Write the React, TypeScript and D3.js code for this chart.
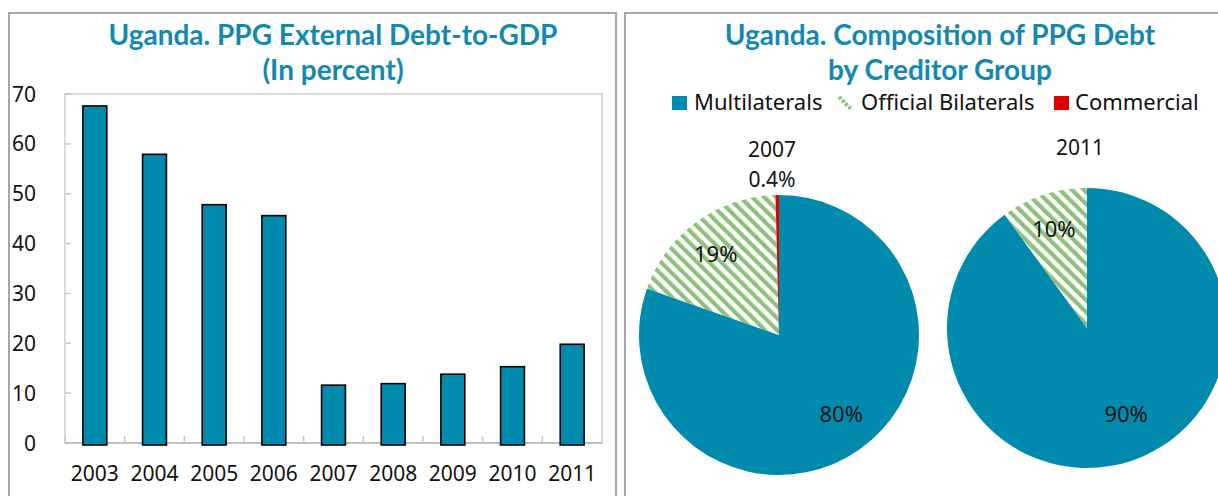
import React from "react";
import * as d3 from "d3";

const years = ["2003", "2004", "2005", "2006", "2007", "2008", "2009", "2010", "2011"];
const debtToGdp = [67.6, 57.9, 47.8, 45.6, 11.6, 11.9, 13.8, 15.3, 19.8];
const yTicks = [0, 10, 20, 30, 40, 50, 60, 70];

const creditorGroups = ["Multilaterals", "Official Bilaterals", "Commercial"];
const pie2007 = [80.4, 19.2, 0.4];
const pie2011 = [90, 10, 0];
const pie2007Labels = ["80%", "19%", "0.4%"];
const pie2011Labels = ["90%", "10%", ""];

const TEAL = "#008BAE";
const GREEN = "#8DC07B";
const RED = "#E00000";
const TITLE = "#1389B0";
const TFONT = "Lato, 'Noto Sans', sans-serif";
const FONT = "'Noto Sans', 'Open Sans', sans-serif";

export default function App() {
  const x = d3.scaleBand<string>().domain(years).range([65, 602]).paddingInner(0.6).paddingOuter(0.3);
  const y = d3.scaleLinear().domain([0, 70]).range([443, 94]);
  const step = x.step();

  const pieGen = d3.pie<number>().sort(null).value((d) => d);
  const R = 140;
  const arcGen = d3.arc<d3.PieArcDatum<number>>().innerRadius(0).outerRadius(R);
  const labelArc = d3.arc<d3.PieArcDatum<number>>().innerRadius(R * 0.72).outerRadius(R * 0.72);
  const fills = [TEAL, "url(#hatch)", RED];

  const pies = [
    { year: "2007", data: pie2007, labels: pie2007Labels, cx: 779, cy: 335, yearY: 157, nudge: [[4, -3], [-4, 1]] },
    { year: "2011", data: pie2011, labels: pie2011Labels, cx: 1087, cy: 328, yearY: 155, nudge: [[8, -10], [-2, -3]] },
  ];

  return (
    <svg width={1218} height={496} style={{ position: "absolute", left: 0, top: 0 }} fontFamily={FONT}>
      <defs>
        <pattern id="hatch" patternUnits="userSpaceOnUse" width={8.5} height={8.5} patternTransform="rotate(-45)">
          <rect x={0} y={0} width={8.5} height={8.5} fill="#fff" />
          <rect x={0} y={0} width={4.2} height={8.5} fill={GREEN} />
        </pattern>
        <clipPath id="rightClip">
          <rect x={626} y={14} width={600} height={490} />
        </clipPath>
      </defs>
      <rect x={0} y={0} width={1218} height={496} fill="#fff" />

      {/* Left panel */}
      <rect x={9} y={13} width={607} height={520} fill="none" stroke="#A6A6A6" strokeWidth={2} />
      <g fontFamily={TFONT} fontWeight="bold" fontSize={28} fill={TITLE} textAnchor="middle">
        <text x={333} y={45}>Uganda. PPG External Debt-to-GDP</text>
        <text x={333} y={80}>(In percent)</text>
      </g>

      <rect x={65} y={94} width={537} height={349} fill="none" stroke="#D0D0D0" strokeWidth={1.5} />
      {yTicks.map((t) => (
        <g key={t}>
          <line x1={65} x2={71} y1={y(t)} y2={y(t)} stroke="#C8C8C8" strokeWidth={1.5} />
          <text x={36} y={y(t)} dy="0.36em" textAnchor="end" fontSize={21} fill="#111">
            {t}
          </text>
        </g>
      ))}
      {years.map((yr, i) => (
        <line key={"t" + yr} x1={65 + step * i} x2={65 + step * i} y1={443} y2={436} stroke="#C8C8C8" strokeWidth={1.5} />
      ))}
      <line x1={65} x2={602} y1={443} y2={443} stroke="#C0C0C0" strokeWidth={2} />
      {years.map((yr, i) => (
        <g key={yr}>
          <rect
            x={x(yr)!}
            y={y(debtToGdp[i])}
            width={x.bandwidth()}
            height={y(0) - y(debtToGdp[i]) + 2}
            fill={TEAL}
            stroke="#000"
            strokeWidth={1.6}
          />
          <text x={x(yr)! + x.bandwidth() / 2} y={481} textAnchor="middle" fontSize={21} fill="#111">
            {yr}
          </text>
        </g>
      ))}

      {/* Right panel */}
      <rect x={625} y={13} width={620} height={520} fill="none" stroke="#A6A6A6" strokeWidth={2} />
      <g fontFamily={TFONT} fontWeight="bold" fontSize={28} fill={TITLE} textAnchor="middle">
        <text x={940} y={45}>Uganda. Composition of PPG Debt</text>
        <text x={940} y={80}>by Creditor Group</text>
      </g>

      {/* Legend */}
      <rect x={672} y={96} width={15} height={14} fill={TEAL} />
      <text x={694} y={110} fontSize={22} fill="#111">{creditorGroups[0]}</text>
      <line x1={839} y1={97} x2={852} y2={110} stroke={GREEN} strokeWidth={4} strokeDasharray="3 1.5" />
      <text x={861} y={110} fontSize={22} fill="#111">{creditorGroups[1]}</text>
      <rect x={1054} y={96} width={15} height={14} fill={RED} />
      <text x={1075} y={110} fontSize={22} fill="#111">{creditorGroups[2]}</text>

      <g clipPath="url(#rightClip)">
        {pies.map((p) => {
          const arcs = pieGen(p.data);
          return (
            <g key={p.year}>
              <text x={p.cx - 7} y={p.yearY} textAnchor="middle" fontSize={21} fill="#111">
                {p.year}
              </text>
              <g transform={`translate(${p.cx},${p.cy})`}>
                {arcs.map((a, i) =>
                  a.value > 0 ? <path key={i} d={arcGen(a)!} fill={fills[i]} /> : null
                )}
                {arcs.map((a, i) => {
                  if (!p.labels[i]) return null;
                  if (i === 2) {
                    return (
                      <text key={"l" + i} x={-7} y={-R - 8} textAnchor="middle" fontSize={21} fill="#111">
                        {p.labels[i]}
                      </text>
                    );
                  }
                  const [lx, ly] = labelArc.centroid(a);
                  const [nx, ny] = p.nudge[i];
                  return (
                    <text key={"l" + i} x={lx + nx} y={ly + ny} dy="0.35em" textAnchor="middle" fontSize={22} fill="#111">
                      {p.labels[i]}
                    </text>
                  );
                })}
              </g>
            </g>
          );
        })}
      </g>
    </svg>
  );
}
